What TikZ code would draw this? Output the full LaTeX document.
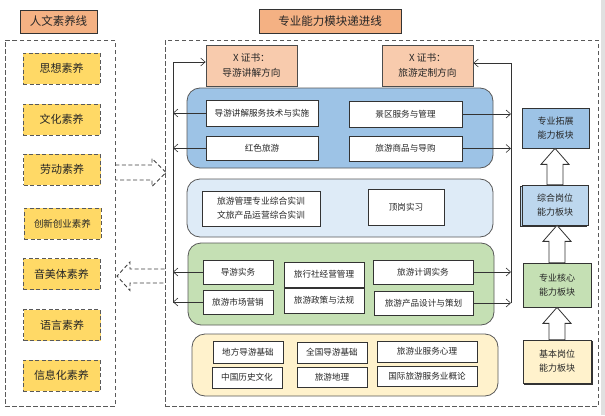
\documentclass[tikz,border=0pt]{standalone}
\usepackage{fontspec}
\setmainfont{Noto Sans CJK SC}
\usetikzlibrary{arrows.meta,shadows,calc}
\definecolor{titleor}{HTML}{F4B183}
\definecolor{certor}{HTML}{F8CBAD}
\definecolor{gold}{HTML}{FFD966}
\definecolor{bluep}{HTML}{9DC3E6}
\definecolor{lbluep}{HTML}{DEEBF7}
\definecolor{greenp}{HTML}{C5E0B4}
\definecolor{yelp}{HTML}{FFF2CC}
\definecolor{midblue}{HTML}{BDD7EE}
\tikzset{
  txt/.style={text=black!85, inner sep=0pt, align=center},
  titlebox/.style={txt, draw=black!80, fill=titleor, line width=0.8pt, font=\fontsize{11.5}{13}\selectfont},
  certbox/.style={txt, draw=black!70, fill=certor, line width=0.8pt, font=\fontsize{9.7}{15}\selectfont},
  outerdash/.style={draw=black!65, line width=0.8pt, dash pattern=on 4.5pt off 2.5pt},
  goldbox/.style={txt, draw=black!65, fill=gold, line width=0.8pt, dash pattern=on 4pt off 2.5pt, minimum width=77pt, minimum height=31pt, font=\fontsize{11}{13}\selectfont},
  panel/.style={draw=black!65, line width=0.8pt, rounded corners=13pt, inner sep=0pt},
  wbox/.style={txt, draw=black!80, fill=white, line width=0.7pt, font=\fontsize{8.6}{12}\selectfont},
  rbox/.style={txt, draw=black!80, line width=0.7pt, font=\fontsize{9}{14}\selectfont},
  conn/.style={draw=black!80, line width=0.6pt},
  tip/.style={-{Straight Barb[length=4.5pt,width=8pt]}},
  dashblk/.style={draw=black!75, line width=0.9pt, dash pattern=on 4pt off 2.5pt},
  upblk/.style={draw=black!80, fill=white, line width=0.8pt},
}
\begin{document}
\begin{tikzpicture}[x=1pt,y=-1pt]
\useasboundingbox (0,0) rectangle (605,415);
\fill[white] (0,0) rectangle (605,415);
\fill[black!12] (601,0) rectangle (605,415);

% ---------- left column ----------
\node[titlebox, minimum width=77pt, minimum height=23pt] (t1) at (58.5,21.5) {人文素养线};
\node[outerdash, minimum width=110pt, minimum height=366pt, inner sep=0pt] (lbox) at (60,223) {};
\node[goldbox] (s1) at (61.5,68.5) {思想素养};
\node[goldbox] (s2) at (61.5,119.5) {文化素养};
\node[goldbox] (s3) at (62,169.5) {劳动素养};
\node[goldbox, font=\fontsize{9.5}{11}\selectfont] (s4) at (62.5,223.5) {创新创业素养};
\node[goldbox] (s5) at (61.5,274) {音美体素养};
\node[goldbox] (s6) at (62,325) {语言素养};
\node[goldbox] (s7) at (61.5,375.5) {信息化素养};

% ---------- middle ----------
\node[titlebox, minimum width=142pt, minimum height=24pt] (t2) at (330,21) {专业能力模块递进线};
\node[outerdash, minimum width=433pt, minimum height=366pt, inner sep=0pt] (mbox) at (381.5,223) {};

\node[certbox, minimum width=91pt, minimum height=41pt] (xa) at (251.5,65.5) {X 证书：\\导游讲解方向};
\node[certbox, minimum width=91pt, minimum height=41pt] (xb) at (427.5,65.5) {X 证书：\\旅游定制方向};

\node[panel, fill=bluep, minimum width=306pt, minimum height=80pt] (pb) at (340,128) {};
\node[wbox, minimum width=112pt, minimum height=26pt] (b1) at (262,113) {导游讲解服务技术与实施};
\node[wbox, minimum width=113pt, minimum height=26pt] (b2) at (405.5,114) {景区服务与管理};
\node[wbox, minimum width=112pt, minimum height=24pt] (b3) at (262,148) {红色旅游};
\node[wbox, minimum width=113pt, minimum height=25pt] (b4) at (405.5,148.5) {旅游商品与导购};

\node[panel, fill=lbluep, minimum width=306pt, minimum height=58pt] (pl) at (340,208) {};
\node[wbox, minimum width=118pt, minimum height=35pt, font=\fontsize{8.8}{14}\selectfont] (c1) at (261,208.5) {旅游管理专业综合实训\\文旅产品运营综合实训};
\node[wbox, minimum width=76pt, minimum height=36pt] (c2) at (406,207) {顶岗实习};

\node[panel, fill=greenp, minimum width=306pt, minimum height=82pt] (pg) at (341,284) {};
\node[wbox, minimum width=70pt, minimum height=24pt] (g1) at (238,272) {导游实务};
\node[wbox, minimum width=80pt, minimum height=25pt] (g2) at (324,274.5) {旅行社经营管理};
\node[wbox, minimum width=100pt, minimum height=24pt] (g3) at (423,272) {旅游计调实务};
\node[wbox, minimum width=70pt, minimum height=24pt] (g4) at (238,302) {旅游市场营销};
\node[wbox, minimum width=80pt, minimum height=25pt] (g5) at (324,300.5) {旅游政策与法规};
\node[wbox, minimum width=99pt, minimum height=24pt] (g6) at (423.5,303) {旅游产品设计与策划};

\node[panel, fill=yelp, minimum width=306pt, minimum height=62pt] (py) at (345,365) {};
\node[wbox, minimum width=70pt, minimum height=22pt] (y1) at (248,352) {地方导游基础};
\node[wbox, minimum width=70pt, minimum height=21pt] (y2) at (332,352.5) {全国导游基础};
\node[wbox, minimum width=100pt, minimum height=21pt] (y3) at (427,351.5) {旅游业服务心理};
\node[wbox, minimum width=70pt, minimum height=21pt] (y4) at (247,377.5) {中国历史文化};
\node[wbox, minimum width=70pt, minimum height=20pt] (y5) at (332,377) {旅游地理};
\node[wbox, minimum width=100pt, minimum height=20pt] (y6) at (427,376) {国际旅游服务业概论};

% ---------- right column ----------
\node[rbox, fill=bluep, minimum width=67pt, minimum height=40pt] (r1) at (555.5,128) {专业拓展\\能力板块};
\node[rbox, fill=midblue, minimum width=66pt, minimum height=40pt,
      copy shadow={shadow xshift=-1.5pt, shadow yshift=-1.5pt}] (r2) at (555,205) {综合岗位\\能力板块};
\node[rbox, fill=greenp, minimum width=68pt, minimum height=44pt] (r3) at (557,285) {专业核心\\能力板块};
\node[rbox, fill=yelp, minimum width=68pt, minimum height=43pt,
      copy shadow={shadow xshift=1.5pt, shadow yshift=-1.5pt}] (r4) at (557,361.5) {基本岗位\\能力板块};

% up block arrows
\foreach \lo/\hi in {r4/r3, r3/r2, r2/r1}{
  \draw[upblk] let \p1=(\lo.north), \p2=(\hi.south) in
    ({\x1-8pt},{\y1}) -- ({\x1-8pt},{\y2-16pt}) -- ({\x1-14pt},{\y2-16pt}) -- ({\x1},{\y2})
    -- ({\x1+14pt},{\y2-16pt}) -- ({\x1+8pt},{\y2-16pt}) -- ({\x1+8pt},{\y1}) -- cycle;
}

% ---------- dashed block arrows ----------
\coordinate (da1) at (lbox.east |- 0,165);
\coordinate (da2) at (lbox.east |- 0,180);
\draw[dashblk] (da1) -- (152,165) -- (152,158.5) -- (166,172.5) -- (152,186.5) -- (152,180) -- (da2);
\coordinate (db1) at (mbox.west |- 0,269);
\coordinate (db2) at (mbox.west |- 0,283);
\draw[dashblk] (db1) -- (130,269) -- (130,262) -- (117,276) -- (130,290.5) -- (130,283) -- (db2);

% ---------- connectors ----------
\coordinate (L0) at (173,62);
\coordinate (L1) at (173,303);
\draw[conn, tip] (L1) -- (L0) -- (L0 -| xa.west);
\foreach \n in {b1,b3,g1,g4}{
  \draw[conn, tip] (\n.west) -- (\n.west -| L0);
}
\coordinate (R0) at (511,63);
\coordinate (R1) at (511,303);
\draw[conn, tip] (R1) -- (R0) -- (R0 -| xb.east);
\foreach \n in {b2,b4,g3,g6}{
  \draw[conn, tip] (\n.east) -- (\n.east -| R0);
}
\end{tikzpicture}
\end{document}
